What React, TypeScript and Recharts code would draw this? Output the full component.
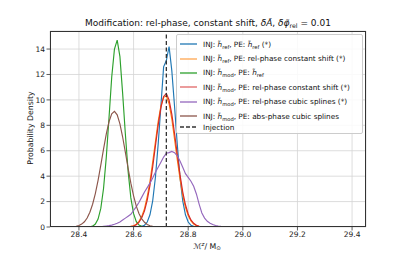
import React from "react";
import { LineChart, Line, XAxis, YAxis, CartesianGrid, ReferenceLine } from "recharts";

const xGrid = [
  28.30, 28.31, 28.32, 28.33, 28.34, 28.35, 28.36, 28.37, 28.38, 28.39,
  28.40, 28.41, 28.42, 28.43, 28.44, 28.45, 28.46, 28.47, 28.48, 28.49,
  28.50, 28.51, 28.52, 28.53, 28.54, 28.55, 28.56, 28.57, 28.58, 28.59,
  28.60, 28.61, 28.62, 28.63, 28.64, 28.65, 28.66, 28.67, 28.68, 28.69,
  28.70, 28.71, 28.72, 28.73, 28.74, 28.75, 28.76, 28.77, 28.78, 28.79,
  28.80, 28.81, 28.82, 28.83, 28.84, 28.85, 28.86, 28.87, 28.88, 28.89,
  28.90, 28.91, 28.92, 28.93, 28.94, 28.95, 28.96, 28.97, 28.98, 28.99,
  29.00,
];

// INJ: h_ref, PE: h_ref (*)
const blueVals = [
  0, 0, 0, 0, 0, 0, 0, 0, 0, 0,
  0, 0, 0, 0, 0, 0, 0, 0, 0, 0,
  0, 0, 0, 0, 0, 0, 0, 0, 0, 0,
  0, 0, 0, 0.05, 0.14, 0.39, 0.96, 2.06, 3.91, 6.5,
  9.5, 12.6, 13.1, 14.2, 12.3, 9.5, 6.5, 3.9, 2.06, 0.96,
  0.39, 0.14, 0.05, 0, 0, 0, 0, 0, 0, 0,
  0, 0, 0, 0, 0, 0, 0, 0, 0, 0,
  0,
];

// INJ: h_ref, PE: rel-phase constant shift (*)
const orangeVals = [
  0, 0, 0, 0, 0, 0, 0, 0, 0, 0,
  0, 0, 0, 0, 0, 0, 0, 0, 0, 0,
  0, 0, 0, 0, 0, 0, 0, 0, 0, 0.05,
  0.10, 0.22, 0.45, 0.84, 1.45, 2.38, 3.6, 5.1, 6.7, 8.3,
  9.5, 10.2, 10.3, 9.7, 8.5, 6.9, 5.3, 3.8, 2.5, 1.55,
  0.9, 0.48, 0.24, 0.11, 0.05, 0.02, 0, 0, 0, 0,
  0, 0, 0, 0, 0, 0, 0, 0, 0, 0,
  0,
];

// INJ: h_mod, PE: h_ref
const greenVals = [
  0, 0, 0, 0, 0, 0, 0, 0, 0, 0,
  0, 0, 0, 0, 0.02, 0.07, 0.23, 0.62, 1.46, 3.03,
  5.46, 8.57, 11.8, 14.0, 14.7, 13.4, 10.5, 7.3, 4.38, 2.29,
  1.05, 0.42, 0.15, 0.05, 0, 0, 0, 0, 0, 0,
  0, 0, 0, 0, 0, 0, 0, 0, 0, 0,
  0, 0, 0, 0, 0, 0, 0, 0, 0, 0,
  0, 0, 0, 0, 0, 0, 0, 0, 0, 0,
  0,
];

// INJ: h_mod, PE: rel-phase constant shift (*)
const redVals = [
  0, 0, 0, 0, 0, 0, 0, 0, 0, 0,
  0, 0, 0, 0, 0, 0, 0, 0, 0, 0,
  0, 0, 0, 0, 0, 0, 0, 0, 0, 0.04,
  0.08, 0.18, 0.38, 0.72, 1.27, 2.12, 3.28, 4.73, 6.37, 8.0,
  9.39, 10.27, 10.5, 9.99, 8.88, 7.36, 5.7, 4.12, 2.77, 1.75,
  1.02, 0.56, 0.29, 0.14, 0.06, 0.03, 0, 0, 0, 0,
  0, 0, 0, 0, 0, 0, 0, 0, 0, 0,
  0,
];

// INJ: h_mod, PE: rel-phase cubic splines (*)
const purpleVals = [
  0, 0, 0, 0, 0, 0, 0, 0, 0, 0,
  0, 0, 0, 0, 0, 0, 0, 0, 0.02, 0.05,
  0.08, 0.11, 0.15, 0.22, 0.3, 0.4, 0.55, 0.7, 0.85, 1.0,
  1.3, 1.6, 1.95, 2.35, 2.75, 3.1, 3.45, 3.85, 4.3, 4.7,
  5.1, 5.5, 5.8, 5.85, 5.95, 5.85, 5.6, 5.2, 4.7, 4.2,
  3.9, 3.6, 3.2, 2.6, 1.8, 1.1, 0.7, 0.45, 0.3, 0.2,
  0.12, 0.08, 0.05, 0.03, 0, 0, 0, 0, 0, 0,
  0,
];

// INJ: h_mod, PE: abs-phase cubic splines
const brownVals = [
  0, 0, 0, 0, 0, 0, 0, 0, 0.03, 0.06,
  0.12, 0.23, 0.41, 0.71, 1.16, 1.79, 2.63, 3.67, 4.87, 6.12,
  7.31, 8.28, 8.91, 9.1, 8.82, 8.11, 7.08, 5.87, 4.62, 3.45,
  2.45, 1.64, 1.05, 0.64, 0.37, 0.2, 0.1, 0.05, 0.02, 0,
  0, 0, 0, 0, 0, 0, 0, 0, 0, 0,
  0, 0, 0, 0, 0, 0, 0, 0, 0, 0,
  0, 0, 0, 0, 0, 0, 0, 0, 0, 0,
  0,
];

const injectionValue = 28.72;
const xTicks = [28.4, 28.6, 28.8, 29.0, 29.2, 29.4];
const yTicks = [0, 2, 4, 6, 8, 10, 12, 14];

const seriesKeys = ["blue", "orange", "green", "red", "purple", "brown"];
const seriesColors = ["#1f77b4", "#ff7f0e", "#2ca02c", "#d62728", "#9467bd", "#8c564b"];
const legendColors = ["#1f77b4", "#ffa64f", "#2ca02c", "#e06666", "#9467bd", "#8c564b"];
const seriesLabels = [
  "INJ: ~h[ref], PE: ~h[ref] (*)",
  "INJ: ~h[ref], PE: rel-phase constant shift (*)",
  "INJ: ~h[mod], PE: ~h[ref]",
  "INJ: ~h[mod], PE: rel-phase constant shift (*)",
  "INJ: ~h[mod], PE: rel-phase cubic splines (*)",
  "INJ: ~h[mod], PE: abs-phase cubic splines",
];
const injectionLabel = "Injection";

const seriesValues = [blueVals, orangeVals, greenVals, redVals, purpleVals, brownVals];

const data = xGrid.map((x, i) => {
  const row: Record<string, number> = { x };
  seriesKeys.forEach((k, j) => {
    row[k] = seriesValues[j][i];
  });
  return row;
});

const FONT = "'DejaVu Sans', sans-serif";

function renderLabel(s: string) {
  const parts = s.split(/(~h\[\w+\])/);
  return parts.map((p, i) => {
    const m = p.match(/^~h\[(\w+)\]$/);
    if (m) {
      return (
        <span key={i}>
          <i>h̃</i>
          <sub style={{ fontSize: "5.2px", verticalAlign: "-1.5px", lineHeight: 0 }}>{m[1]}</sub>
        </span>
      );
    }
    return <span key={i}>{p}</span>;
  });
}

function Sample({ color, dashed }: { color: string; dashed?: boolean }) {
  return (
    <svg width={17} height={6} style={{ marginLeft: 3, marginRight: 6, display: "block", flex: "none" }}>
      <line
        x1={0}
        y1={3}
        x2={17}
        y2={3}
        stroke={color}
        strokeWidth={1.3}
        strokeDasharray={dashed ? "4 2" : undefined}
      />
    </svg>
  );
}

export default function App() {
  return (
    <div style={{ position: "absolute", left: 0, top: 0, width: 407, height: 255, background: "#fff", fontFamily: FONT }}>
      <LineChart
        width={407}
        height={255}
        data={data}
        margin={{ top: 31, right: 41, bottom: 0, left: 20 }}
      >
        <CartesianGrid stroke="#d4d4d4" strokeWidth={0.8} />
        <XAxis
          dataKey="x"
          type="number"
          domain={[28.294, 29.451]}
          allowDataOverflow
          ticks={xTicks}
          tickFormatter={(v: number) => v.toFixed(1)}
          height={28}
          axisLine={false}
          tickSize={3.5}
          tickMargin={1}
          tickLine={{ stroke: "#333", strokeWidth: 0.8 }}
          tick={{ fontSize: 7.5, fill: "#222", fontFamily: FONT }}
          interval={0}
        />
        <YAxis
          type="number"
          domain={[0, 15.42]}
          allowDataOverflow
          ticks={yTicks}
          width={30}
          axisLine={false}
          tickSize={3.5}
          tickMargin={1.5}
          tickLine={{ stroke: "#333", strokeWidth: 0.8 }}
          tick={{ fontSize: 7.5, fill: "#222", fontFamily: FONT }}
          interval={0}
        />
        {seriesKeys.map((k, j) => (
          <Line
            key={k}
            type="linear"
            dataKey={k}
            stroke={seriesColors[j]}
            strokeWidth={1.15}
            dot={false}
            isAnimationActive={false}
          />
        ))}
        <ReferenceLine x={injectionValue} stroke="#333" strokeWidth={1.3} strokeDasharray="4 2.5" />
      </LineChart>

      {/* axes frame */}
      <div
        style={{
          position: "absolute",
          left: 50,
          top: 31,
          width: 316,
          height: 196,
          boxSizing: "border-box",
          border: "0.8px solid #333",
          pointerEvents: "none",
        }}
      />

      {/* title */}
      <div
        style={{
          position: "absolute",
          left: 208,
          top: 22.5,
          transform: "translate(-50%, -50%)",
          whiteSpace: "nowrap",
          fontSize: 9,
          color: "#111",
        }}
      >
        Modification: rel-phase, constant shift, <i>δÃ</i>, <i>δφ̃</i>
        <sub style={{ fontSize: "6.3px", verticalAlign: "-2px", lineHeight: 0 }}>rel</sub> = 0.01
      </div>

      {/* y label */}
      <div
        style={{
          position: "absolute",
          left: 29.5,
          top: 128,
          transform: "translate(-50%, -50%) rotate(-90deg)",
          whiteSpace: "nowrap",
          fontSize: 7.8,
          color: "#111",
        }}
      >
        Probability Density
      </div>

      {/* x label */}
      <div
        style={{
          position: "absolute",
          left: 207,
          top: 246,
          transform: "translate(-50%, -50%)",
          whiteSpace: "nowrap",
          fontSize: 7.8,
          color: "#111",
        }}
      >
        <i>ℳ</i>
        <sup style={{ fontSize: "5.5px", verticalAlign: "3px", lineHeight: 0 }}>
          <i>z</i>
        </sup>
        / M<sub style={{ fontSize: "5.5px", verticalAlign: "-1.5px", lineHeight: 0 }}>⊙</sub>
      </div>

      {/* legend */}
      <div
        style={{
          position: "absolute",
          left: 176,
          top: 34,
          width: 187,
          height: 99.5,
          boxSizing: "border-box",
          border: "0.8px solid #cccccc",
          borderRadius: 2,
          background: "rgba(255,255,255,0.85)",
          fontSize: 7.3,
          color: "#111",
          paddingTop: 2,
        }}
      >
        {seriesLabels.map((lab, j) => (
          <div key={j} style={{ height: 14.4, display: "flex", alignItems: "center", whiteSpace: "nowrap" }}>
            <Sample color={legendColors[j]} />
            <span>{renderLabel(lab)}</span>
          </div>
        ))}
        <div style={{ height: 10, display: "flex", alignItems: "center", whiteSpace: "nowrap", marginTop: -1 }}>
          <Sample color="#333" dashed />
          <span>{injectionLabel}</span>
        </div>
      </div>
    </div>
  );
}
